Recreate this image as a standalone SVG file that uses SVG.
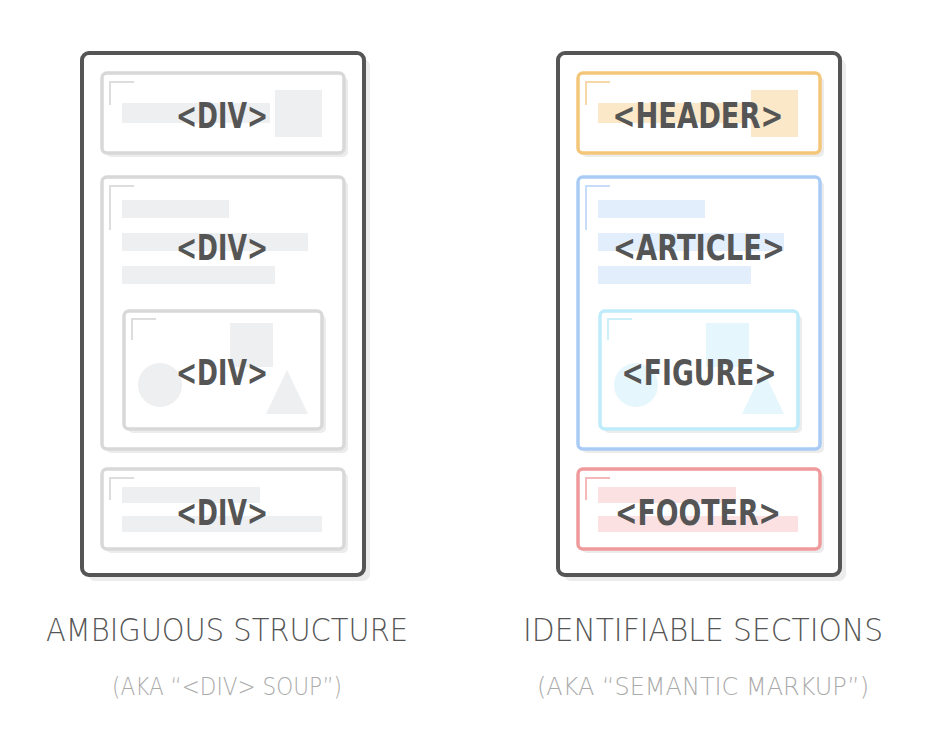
<svg xmlns="http://www.w3.org/2000/svg" width="934" height="738" viewBox="0 0 934 738">
<style>
.sh{fill:#ececec}
.outer{fill:#fff;stroke:#555;stroke-width:4}
.box{stroke-width:3.5}
.g{fill:#fff;stroke:#d8d8d8}
.gf{fill:#eeeff0}
.o{fill:#fff;stroke:#f3c67a}
.of{fill:#fbe8c8}
.b{fill:#fff;stroke:#a9cbf5}
.bf{fill:#e2eefc}
.c{fill:#fff;stroke:#bfecfa}
.cf{fill:#e5f6fc}
.r{fill:#fff;stroke:#ef9a9c}
.rf{fill:#fbe1e2}
.lbl{font-family:"DejaVu Sans Condensed","DejaVu Sans",sans-serif;font-weight:bold;font-size:36px;fill:#555;text-anchor:middle}
.cap{font-family:"DejaVu Sans",sans-serif;font-weight:200;fill:#555;text-anchor:middle}
.sub{font-family:"DejaVu Sans",sans-serif;font-weight:200;fill:#aaa;text-anchor:middle}
.crn{fill:none;stroke-width:2}
</style>
<g id="left">
<rect class="sh" x="88" y="59" width="282" height="522" rx="7"/>
<rect class="outer" x="82" y="53" width="282" height="522" rx="7"/>
<g id="l-header">
<rect class="sh" x="106" y="77" width="242" height="80" rx="5"/>
<rect class="box g" x="102" y="73" width="242" height="80" rx="5"/>
<path class="crn" stroke="#ddd" d="M110 105V82h24"/>
<rect class="gf" x="122" y="103" width="148" height="20"/>
<rect class="gf" x="275" y="90" width="47" height="47"/>
<text class="lbl" x="222" y="128" textLength="92" lengthAdjust="spacingAndGlyphs">&lt;DIV&gt;</text>
</g>
<g id="l-article">
<rect class="sh" x="106" y="181" width="242" height="272" rx="5"/>
<rect class="box g" x="102" y="177" width="242" height="272" rx="5"/>
<path class="crn" stroke="#ddd" d="M110 230V186h24"/>
<rect class="gf" x="122" y="200" width="107" height="18"/>
<rect class="gf" x="122" y="233" width="186" height="18"/>
<rect class="gf" x="122" y="266" width="153" height="18"/>
<text class="lbl" x="222" y="260" textLength="92" lengthAdjust="spacingAndGlyphs">&lt;DIV&gt;</text>
</g>
<g id="l-figure">
<rect class="sh" x="128" y="315" width="198" height="118" rx="5"/>
<rect class="box g" x="124" y="311" width="198" height="118" rx="5"/>
<path class="crn" stroke="#ddd" d="M132 340V319h24"/>
<rect class="gf" x="230" y="323" width="43" height="44"/>
<circle class="gf" cx="160" cy="385" r="22"/>
<polygon class="gf" points="287,370 308,414 266,414"/>
<text class="lbl" x="222" y="385" textLength="92" lengthAdjust="spacingAndGlyphs">&lt;DIV&gt;</text>
</g>
<g id="l-footer">
<rect class="sh" x="106" y="473" width="242" height="80" rx="5"/>
<rect class="box g" x="102" y="469" width="242" height="80" rx="5"/>
<path class="crn" stroke="#ddd" d="M110 500V478h24"/>
<rect class="gf" x="122" y="487" width="138" height="16"/>
<rect class="gf" x="122" y="516" width="200" height="16"/>
<text class="lbl" x="222" y="525" textLength="92" lengthAdjust="spacingAndGlyphs">&lt;DIV&gt;</text>
</g>
</g>
<g id="right">
<rect class="sh" x="564" y="59" width="282" height="522" rx="7"/>
<rect class="outer" x="558" y="53" width="282" height="522" rx="7"/>
<g id="r-header">
<rect class="sh" x="582" y="77" width="242" height="80" rx="5"/>
<rect class="box o" x="578" y="73" width="242" height="80" rx="5"/>
<path class="crn" stroke="#f6d9a8" d="M586 105V82h24"/>
<rect class="of" x="598" y="103" width="148" height="20"/>
<rect class="of" x="751" y="90" width="47" height="47"/>
<text class="lbl" x="698" y="128" textLength="171" lengthAdjust="spacingAndGlyphs">&lt;HEADER&gt;</text>
</g>
<g id="r-article">
<rect class="sh" x="582" y="181" width="242" height="272" rx="5"/>
<rect class="box b" x="578" y="177" width="242" height="272" rx="5"/>
<path class="crn" stroke="#c6dcf8" d="M586 230V186h24"/>
<rect class="bf" x="598" y="200" width="107" height="18"/>
<rect class="bf" x="598" y="233" width="186" height="18"/>
<rect class="bf" x="598" y="266" width="153" height="18"/>
<text class="lbl" x="699" y="260" textLength="172" lengthAdjust="spacingAndGlyphs">&lt;ARTICLE&gt;</text>
</g>
<g id="r-figure">
<rect class="sh" x="604" y="315" width="198" height="118" rx="5"/>
<rect class="box c" x="600" y="311" width="198" height="118" rx="5"/>
<path class="crn" stroke="#cdeffa" d="M608 340V319h24"/>
<rect class="cf" x="706" y="323" width="43" height="44"/>
<circle class="cf" cx="636" cy="385" r="22"/>
<polygon class="cf" points="763,370 784,414 742,414"/>
<text class="lbl" x="699" y="385" textLength="155" lengthAdjust="spacingAndGlyphs">&lt;FIGURE&gt;</text>
</g>
<g id="r-footer">
<rect class="sh" x="582" y="473" width="242" height="80" rx="5"/>
<rect class="box r" x="578" y="469" width="242" height="80" rx="5"/>
<path class="crn" stroke="#f4b8b9" d="M586 500V478h24"/>
<rect class="rf" x="598" y="487" width="138" height="16"/>
<rect class="rf" x="598" y="516" width="200" height="16"/>
<text class="lbl" x="698" y="525" textLength="166" lengthAdjust="spacingAndGlyphs">&lt;FOOTER&gt;</text>
</g>
</g>
<text class="cap" x="227" y="641" font-size="32" textLength="362" lengthAdjust="spacingAndGlyphs">AMBIGUOUS STRUCTURE</text>
<text class="sub" x="227" y="695" font-size="24" textLength="230" lengthAdjust="spacingAndGlyphs">(AKA “&lt;DIV&gt; SOUP”)</text>
<text class="cap" x="703" y="641" font-size="32" textLength="360" lengthAdjust="spacingAndGlyphs">IDENTIFIABLE SECTIONS</text>
<text class="sub" x="703" y="695" font-size="24" textLength="332" lengthAdjust="spacingAndGlyphs">(AKA “SEMANTIC MARKUP”)</text>
</svg>
